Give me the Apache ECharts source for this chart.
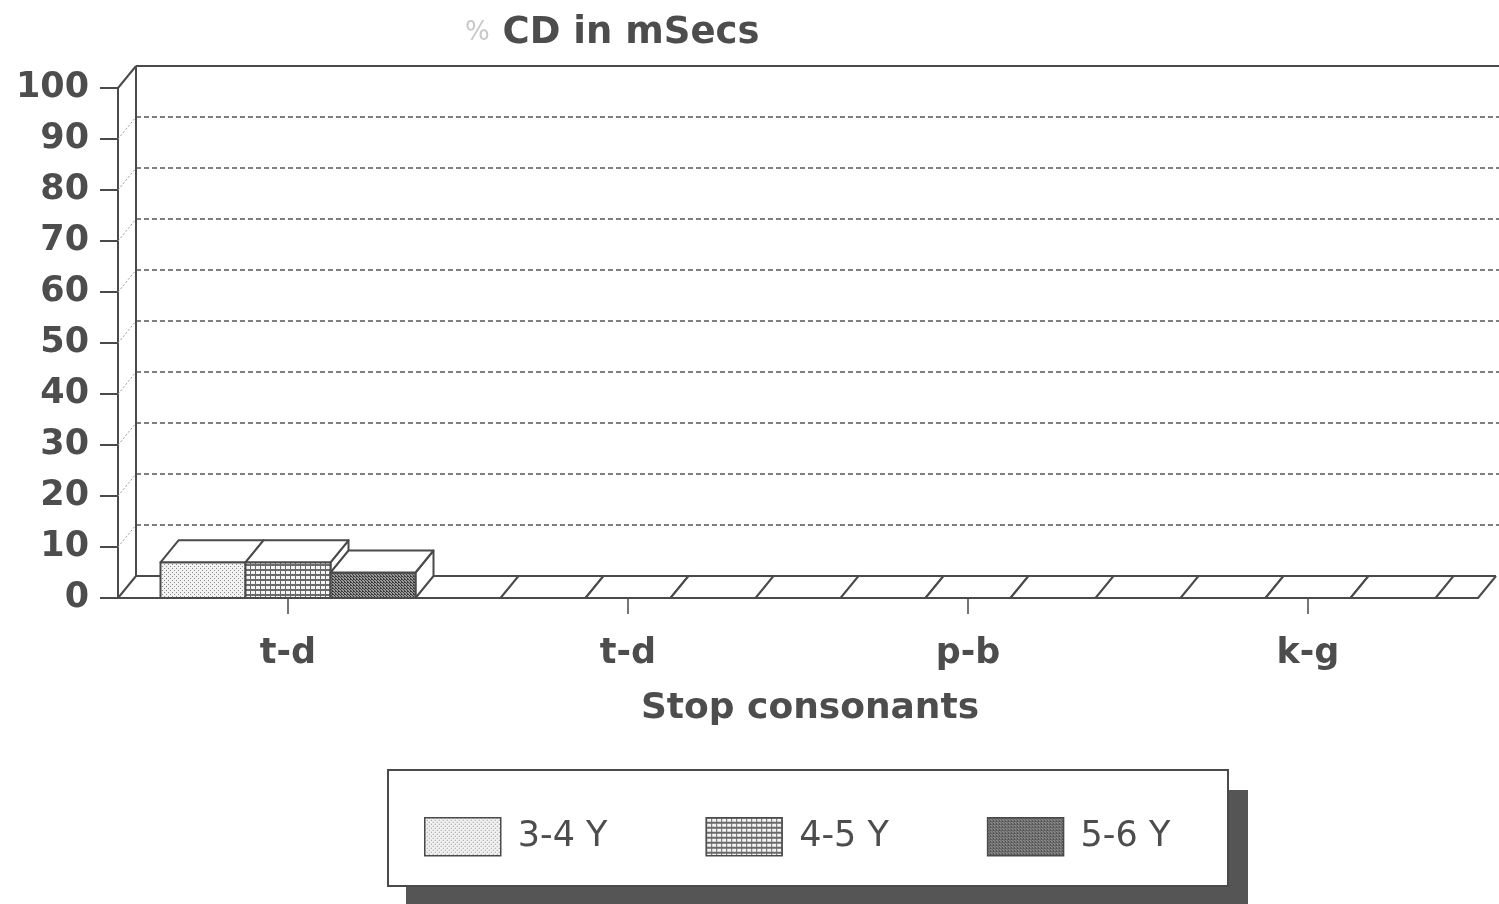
<!DOCTYPE html>
<html>
<head>
<meta charset="utf-8">
<script src="https://cdn.jsdelivr.net/npm/echarts@6/dist/echarts.min.js"></script>
<style>
html,body{margin:0;padding:0;background:#fff;}
#main{width:1499px;height:904px;}
</style>
</head>
<body>
<div id="main"></div>
<script>
// ---- data ----
const categories = ['t-d', 't-d', 'p-b', 'k-g'];
const seriesNames = ['3-4 Y', '4-5 Y', '5-6 Y'];
const values34 = [7, 0, 0, 0];
const values45 = [7, 0, 0, 0];
const values56 = [5, 0, 0, 0];
const yTicks = [0, 10, 20, 30, 40, 50, 60, 70, 80, 90, 100];

// ---- patterns ----
function makePattern(kind) {
  const c = document.createElement('canvas');
  const ctx = c.getContext('2d');
  if (kind === 0) {
    c.width = 4; c.height = 4;
    ctx.fillStyle = '#f2f2f2'; ctx.fillRect(0, 0, 4, 4);
    ctx.fillStyle = '#8a8a8a';
    ctx.fillRect(0, 0, 1, 1); ctx.fillRect(2, 2, 1, 1);
  } else if (kind === 1) {
    c.width = 5; c.height = 5;
    ctx.fillStyle = '#6a6a6a'; ctx.fillRect(0, 0, 5, 5);
    ctx.fillStyle = '#f4f4f4'; ctx.fillRect(1, 1, 4, 3);
  } else {
    c.width = 3; c.height = 3;
    ctx.fillStyle = '#9a9a9a'; ctx.fillRect(0, 0, 3, 3);
    ctx.fillStyle = '#3c3c3c';
    ctx.fillRect(0, 0, 1, 1); ctx.fillRect(1, 1, 1, 1); ctx.fillRect(2, 2, 1, 1); ctx.fillRect(2,0,1,1);
  }
  return { image: c, repeat: 'repeat' };
}
const patterns = [makePattern(0), makePattern(1), makePattern(2)];

const INK = '#4a4a4a';
const TXT = '#4d4d4d';
const DX = 18, DY = -22;
const FONT = '"DejaVu Sans", sans-serif';

const chart = echarts.init(document.getElementById('main'), null, { renderer: 'canvas' });

function renderBar(params, api) {
  const idx = params.seriesIndex;
  const cat = api.value(0), v = api.value(1);
  const p0 = api.coord([cat, 0]);
  const p1 = api.coord([cat, v]);
  const band = api.size([1, 0])[0];
  const w = band / 4;
  const left = p0[0] - 1.5 * w + idx * w;
  const right = left + w;
  const yb = p0[1], yt = p1[1];
  const stroke = { stroke: INK, lineWidth: 2, lineJoin: 'round' };
  const children = [];
  if (yb - yt > 0.5) {
    children.push({
      type: 'polygon',
      shape: { points: [[right, yb], [right, yt], [right + DX, yt + DY], [right + DX, yb + DY]] },
      style: Object.assign({ fill: '#ffffff' }, stroke)
    });
    children.push({
      type: 'rect',
      shape: { x: left, y: yt, width: w, height: yb - yt },
      style: Object.assign({ fill: patterns[idx] }, stroke)
    });
  }
  children.push({
    type: 'polygon',
    shape: { points: [[left, yt], [right, yt], [right + DX, yt + DY], [left + DX, yt + DY]] },
    style: Object.assign({ fill: '#ffffff' }, stroke)
  });
  return { type: 'group', children: children };
}

const seriesData = [values34, values45, values56];
const series = seriesNames.map((name, i) => ({
  name: name,
  type: 'custom',
  renderItem: renderBar,
  itemStyle: { color: patterns[i] },
  data: seriesData[i].map((v, k) => [k, v]),
  encode: { x: 0, y: 1 },
  z: 3,
  silent: true
}));

const option = {
  backgroundColor: '#ffffff',
  animation: false,
  title: {
    text: '{p|%} CD in mSecs',
    left: 460, top: 10,
    textStyle: {
      fontFamily: FONT, fontSize: 37, fontWeight: 'bold', color: TXT,
      rich: {
        p: { fontFamily: FONT, fontSize: 26, fontWeight: 'normal', color: '#c8c8c8' }
      }
    }
  },
  grid: { left: 118, right: 21, top: 88, bottom: 306 },
  legend: {
    left: 419, top: 812,
    itemWidth: 76, itemHeight: 38, itemGap: 98,
    icon: 'rect',
    selectedMode: false,
    textStyle: { fontFamily: FONT, fontSize: 35, color: TXT, padding: [0, 0, 0, 12] },
    data: seriesNames.map((n, i) => ({
      name: n,
      itemStyle: { color: patterns[i], borderColor: INK, borderWidth: 1.5 }
    }))
  },
  xAxis: {
    type: 'category',
    data: categories,
    name: 'Stop consonants',
    nameLocation: 'middle',
    nameGap: 93,
    nameTextStyle: { fontFamily: FONT, fontSize: 36, fontWeight: 'bold', color: TXT, padding: [0, 0, 0, 24] },
    axisLine: { show: true, lineStyle: { color: INK, width: 2 } },
    axisTick: { show: true, alignWithLabel: true, length: 16, lineStyle: { color: INK, width: 1.5 } },
    axisLabel: { fontFamily: FONT, fontSize: 35, fontWeight: 'bold', color: TXT, margin: 38 },
    splitLine: { show: false }
  },
  yAxis: {
    type: 'value',
    min: 0, max: 100, interval: 10,
    axisLine: { show: true, lineStyle: { color: INK, width: 2 } },
    axisTick: { show: true, length: 18, lineStyle: { color: INK, width: 2 } },
    axisLabel: {
      fontFamily: FONT, fontSize: 35, fontWeight: 'bold', color: TXT, margin: 29,
      formatter: (v) => yTicks.indexOf(v) >= 0 ? String(v) : ''
    },
    splitLine: { show: false }
  },
  series: series
};
chart.setOption(option);

// ---- 3D frame (back wall, floor, legend box) computed from axis scales ----
function drawFrame() {
  const W = chart.getWidth();
  const xAxis = chart.getModel().getComponent('xAxis', 0).axis;
  const bw = xAxis.getBandWidth();
  const x0 = chart.convertToPixel({ xAxisIndex: 0 }, 0) - bw / 2;
  const x1 = x0 + bw * categories.length;
  const y0 = chart.convertToPixel({ yAxisIndex: 0 }, 0);
  const yTop = chart.convertToPixel({ yAxisIndex: 0 }, 100);
  const els = [];
  const solid = { stroke: INK, lineWidth: 2 };
  yTicks.forEach((t) => {
    const py = chart.convertToPixel({ yAxisIndex: 0 }, t);
    if (t === 0) {
      els.push({ type: 'line', z: 1, shape: { x1: x0 + DX, y1: py + DY, x2: x1 + DX, y2: py + DY }, style: solid });
      els.push({ type: 'line', z: 1, shape: { x1: x0, y1: py, x2: x0 + DX, y2: py + DY }, style: solid });
      els.push({ type: 'line', z: 1, shape: { x1: x1, y1: py, x2: x1 + DX, y2: py + DY }, style: solid });
    } else if (t === 100) {
      els.push({ type: 'line', z: 1, shape: { x1: x0 + DX, y1: py + DY, x2: W, y2: py + DY }, style: solid });
      els.push({ type: 'line', z: 1, shape: { x1: x0, y1: py, x2: x0 + DX, y2: py + DY }, style: solid });
    } else {
      els.push({ type: 'line', z: 1, shape: { x1: x0 + DX, y1: py + DY, x2: W, y2: py + DY }, style: { stroke: '#555555', lineWidth: 1.5, lineDash: [5, 3] } });
      els.push({ type: 'line', z: 1, shape: { x1: x0, y1: py, x2: x0 + DX, y2: py + DY }, style: { stroke: '#9a9a9a', lineWidth: 1, lineDash: [2, 2] } });
    }
  });
  els.push({ type: 'line', z: 1, shape: { x1: x0 + DX, y1: y0 + DY, x2: x0 + DX, y2: yTop + DY }, style: solid });
  // legend box with shadow
  els.push({ type: 'rect', z: 0, shape: { x: 406, y: 790, width: 842, height: 130 }, style: { fill: '#555555' } });
  els.push({ type: 'rect', z: 0, shape: { x: 388, y: 770, width: 840, height: 116 }, style: { fill: '#ffffff', stroke: INK, lineWidth: 2 } });
  chart.setOption({ graphic: { elements: els } });
}
drawFrame();
</script>
</body>
</html>
